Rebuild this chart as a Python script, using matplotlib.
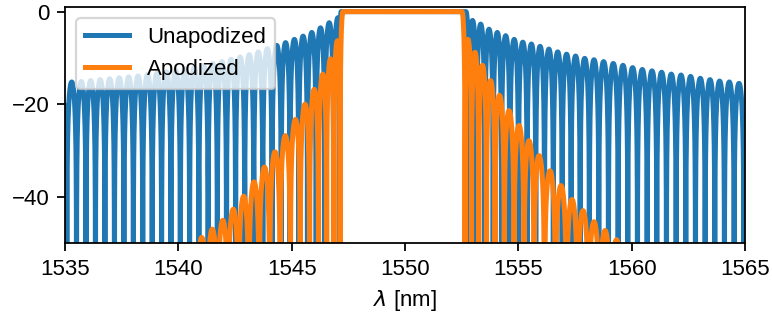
import numpy as np
import matplotlib
matplotlib.use("Agg")
import matplotlib.pyplot as plt

plt.rcParams['font.family'] = ['Liberation Sans', 'DejaVu Sans']
plt.rcParams['font.size'] = 10

# ---------------- data ----------------
# Unapodized grating: side-lobe peaks (wavelength nm, level dB) and stop band edges
unapod_left_nm = [1534.868, 1535.296, 1535.719, 1536.134, 1536.553, 1536.972, 1537.391,
                  1537.810, 1538.221, 1538.640, 1539.054, 1539.469, 1539.882, 1540.292,
                  1540.702, 1541.110, 1541.516, 1541.922, 1542.326, 1542.727, 1543.129,
                  1543.528, 1543.925, 1544.344, 1544.732, 1545.120, 1545.504, 1545.888,
                  1546.272, 1546.656, 1547.040]
unapod_left_db = [-15.4, -15.2, -15.1, -14.9, -14.7, -14.5, -14.3,
                  -14.1, -13.9, -13.6, -13.3, -13.0, -12.7, -12.4,
                  -12.0, -11.6, -11.2, -10.8, -10.3, -9.8, -9.3,
                  -8.7, -8.0, -7.3, -6.7, -6.0, -5.3, -4.5,
                  -3.5, -2.4, -1.3]
unapod_band_nm = [1547.18, 1552.69]
unapod_right_nm = [1552.978, 1553.339, 1553.706, 1554.072, 1554.442, 1554.817, 1555.197,
                   1555.576, 1555.960, 1556.348, 1556.737, 1557.129, 1557.526, 1557.928,
                   1558.338, 1558.762, 1559.189, 1559.617, 1560.041, 1560.469, 1560.897,
                   1561.320, 1561.748, 1562.176, 1562.600, 1563.028, 1563.456, 1563.879,
                   1564.307, 1564.735, 1565.162]
unapod_right_db = [-1.9, -2.7, -3.8, -4.5, -5.2, -6.0, -6.6,
                   -7.0, -7.5, -8.1, -8.7, -9.2, -9.6, -10.1,
                   -10.4, -10.8, -11.2, -11.6, -12.1, -12.5, -12.8,
                   -13.1, -13.5, -13.7, -14.0, -14.4, -14.7, -15.0,
                   -15.2, -15.5, -15.7]

# Apodized grating
apod_left_nm = [1540.590, 1541.031, 1541.498, 1541.962, 1542.425, 1542.884, 1543.338,
                1543.801, 1544.265, 1544.719, 1545.165, 1545.588, 1545.994, 1546.373,
                1546.713, 1547.013]
apod_left_db = [-50.5, -48.8, -47.0, -45.1, -42.7, -39.9, -36.8,
                -33.6, -30.3, -26.8, -23.3, -20.0, -16.8, -13.5,
                -10.2, -6.3]
apod_band_nm = [1547.265, 1552.514]
apod_right_nm = [1552.779, 1553.088, 1553.419, 1553.772, 1554.169, 1554.588, 1555.029,
                 1555.470, 1555.911, 1556.397, 1556.882, 1557.367, 1557.853, 1558.338,
                 1558.823, 1559.331, 1559.838]
apod_right_db = [-6.0, -8.8, -11.6, -14.9, -18.1, -21.4, -24.6,
                 -27.9, -31.1, -34.4, -37.6, -40.6, -43.0, -45.4,
                 -47.3, -49.3, -51.0]

series_labels = ['Unapodized', 'Apodized']
series_colors = ['#1f77b4', '#ff7f0e']
xticks = [1535, 1540, 1545, 1550, 1555, 1560, 1565]
yticks = [-40, -20, 0]


def spectrum(left_nm, left_db, band, right_nm, right_db, n=40):
    """Build the drawn curve: each side lobe is an arch between its two nulls,
    the stop band is a flat 0 dB plateau between its edges."""
    px = list(left_nm) + list(band) + list(right_nm)
    pv = list(left_db) + [0.0, 0.0] + list(right_db)
    flat = len(left_nm)
    xs, ys = [], []
    prev_null = px[0] - (px[1] - px[0]) / 2
    t = np.linspace(0, 1, n)
    for i, (p, v) in enumerate(zip(px, pv)):
        if i == flat + 1:
            xs.append(p)
            ys.append(v)
        else:
            xs.extend(prev_null + (p - prev_null) * t)
            ys.extend(v + 20 * np.log10(np.maximum(np.sin(np.pi / 2 * t), 1e-6)))
        if i == flat:
            continue
        if i + 1 < len(px):
            nxt = (p + px[i + 1]) / 2
        else:
            nxt = p + (p - px[i - 1]) / 2
        xs.extend(p + (nxt - p) * t[1:])
        ys.extend(v + 20 * np.log10(np.maximum(np.cos(np.pi / 2 * t[1:]), 1e-6)))
        prev_null = nxt
    return np.array(xs), np.array(ys)


fig = plt.figure(figsize=(772 / 160, 320 / 160), dpi=160)
ax = fig.add_axes([65 / 772, 1 - 243 / 320, 680 / 772, 236 / 320])

xu, yu = spectrum(unapod_left_nm, unapod_left_db, unapod_band_nm,
                  unapod_right_nm, unapod_right_db)
xa, ya = spectrum(apod_left_nm, apod_left_db, apod_band_nm,
                  apod_right_nm, apod_right_db)

ax.plot(xu, yu, color=series_colors[0], lw=2.25, label=series_labels[0])
ax.plot(xa, ya, color=series_colors[1], lw=2.25, label=series_labels[1])

ax.set_xlim(1535, 1565)
ax.set_ylim(-50, 1)
ax.set_xticks(xticks)
ax.set_yticks(yticks)
ax.set_xlabel(r'$\lambda$ [nm]')
ax.legend(loc='upper left')

fig.savefig('out.png', dpi=160)
